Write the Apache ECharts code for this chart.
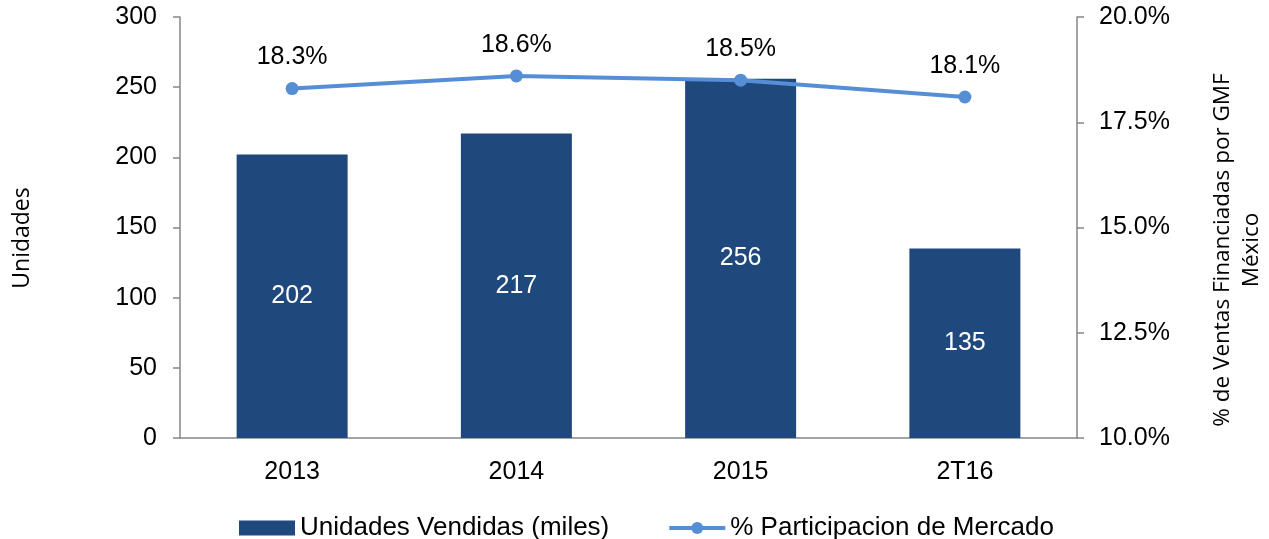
<!DOCTYPE html>
<html>
<head>
<meta charset="utf-8">
<script src="https://cdn.jsdelivr.net/npm/echarts@6/dist/echarts.min.js"></script>
<style>
    html, body { margin: 0; padding: 0; background: #fff; }
    #chart { width: 1269px; height: 539px; }
</style>
</head>
<body>
<div id="chart"></div>
<script>
var categories = ['2013', '2014', '2015', '2T16'];
var unidades = [202, 217, 256, 135];
var participacion = [18.3, 18.6, 18.5, 18.1];
var legData = ['Unidades Vendidas (miles)', '% Participacion de Mercado'];

var barColor = '#1F497D';
var lineColor = '#558ED5';
var axisColor = '#868686';
var fontMain = 'Liberation Sans, Arial, sans-serif';
var fontName = 'Open Sans, Noto Sans, sans-serif';

var chart = echarts.init(document.getElementById('chart'));
var option = {
    animation: false,
    textStyle: { fontFamily: fontMain },
    grid: { left: 180, right: 192, top: 17, bottom: 101 },
    legend: {
        data: [
            { name: legData[0], icon: 'rect', itemStyle: { color: barColor } },
            { name: legData[1], itemStyle: { color: lineColor }, lineStyle: { color: lineColor, width: 4 } }
        ],
        left: 234,
        top: 510,
        itemWidth: 56,
        itemHeight: 15,
        itemGap: 58,
        textStyle: { fontSize: 26, color: '#000', fontFamily: fontMain }
    },
    xAxis: {
        type: 'category',
        data: categories,
        axisLine: { lineStyle: { color: axisColor, width: 1.5 } },
        axisTick: { length: 8, lineStyle: { color: axisColor, width: 1.5 } },
        axisLabel: { fontSize: 25, color: '#000', margin: 22 }
    },
    yAxis: [
        {
            type: 'value',
            min: 0,
            max: 300,
            interval: 50,
            splitLine: { show: false },
            axisLine: { show: true, lineStyle: { color: axisColor, width: 1.5 } },
            axisTick: { show: true, length: 7, lineStyle: { color: axisColor, width: 1.5 } },
            axisLabel: { fontSize: 25, color: '#000', margin: 23 }
        },
        {
            type: 'value',
            min: 10,
            max: 20,
            interval: 2.5,
            position: 'right',
            splitLine: { show: false },
            axisLine: { show: true, lineStyle: { color: axisColor, width: 1.5 } },
            axisTick: { show: true, length: 7, lineStyle: { color: axisColor, width: 1.5 } },
            axisLabel: {
                fontSize: 25, color: '#000', margin: 22,
                formatter: function (v) { return v.toFixed(1) + '%'; }
            }
        }
    ],
    graphic: [
        {
            type: 'text',
            x: 22,
            y: 238,
            rotation: Math.PI / 2,
            style: {
                text: 'Unidades',
                font: '23px ' + fontName,
                fill: '#000',
                align: 'center',
                verticalAlign: 'middle'
            }
        },
        {
            type: 'text',
            x: 1237,
            y: 250,
            rotation: Math.PI / 2,
            style: {
                text: '% de Ventas Financiadas por GMF\nMéxico',
                font: '22.5px ' + fontName,
                lineHeight: 29,
                fill: '#000',
                align: 'center',
                verticalAlign: 'middle'
            }
        }
    ],
    series: [
        {
            name: legData[0],
            type: 'bar',
            data: unidades,
            barWidth: '49.5%',
            itemStyle: { color: barColor },
            label: {
                show: true,
                position: 'inside',
                color: '#fff',
                fontSize: 25
            }
        },
        {
            name: legData[1],
            type: 'line',
            yAxisIndex: 1,
            data: participacion,
            symbol: 'circle',
            symbolSize: 13,
            lineStyle: { color: lineColor, width: 4 },
            itemStyle: { color: lineColor },
            z: 5,
            label: {
                show: true,
                position: 'top',
                distance: 12,
                color: '#000',
                fontSize: 25,
                formatter: function (p) { return p.value.toFixed(1) + '%'; }
            }
        }
    ]
};
chart.setOption(option);
</script>
</body>
</html>
